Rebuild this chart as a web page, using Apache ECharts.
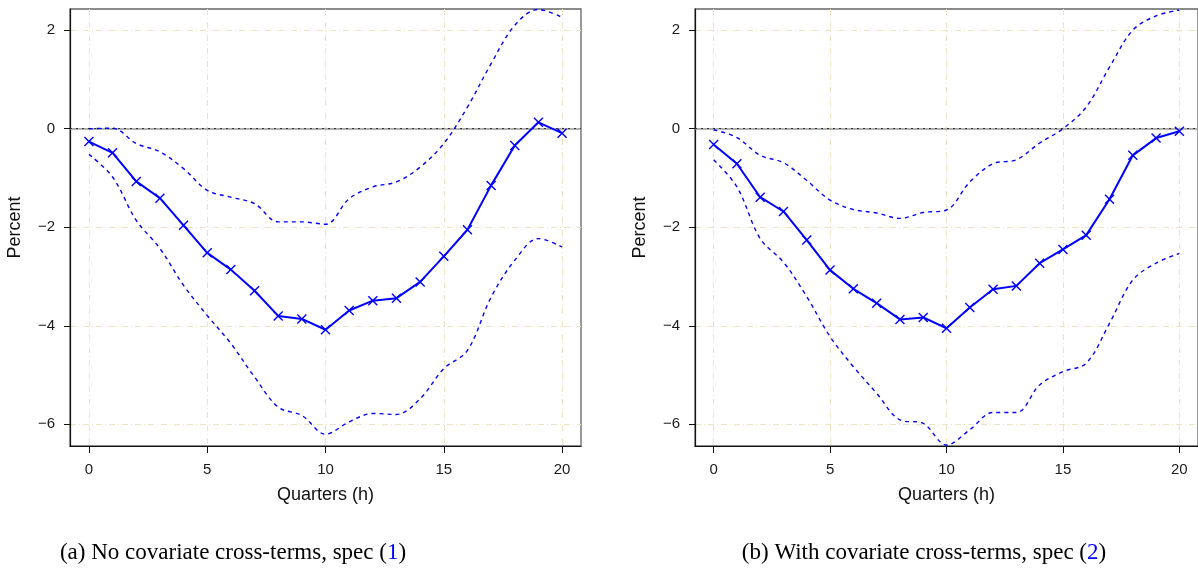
<!DOCTYPE html>
<html><head><meta charset="utf-8">
<script src="https://cdn.jsdelivr.net/npm/echarts@6/dist/echarts.min.js"></script>
<style>html,body{margin:0;padding:0;background:#fff}#c{width:1198px;height:571px}</style>
</head><body><div id="c"></div>
<script>
const quarters = [0,1,2,3,4,5,6,7,8,9,10,11,12,13,14,15,16,17,18,19,20];
const xTicks = [0,5,10,15,20];
const yTicks = [-6,-4,-2,0,2];

// Panel (a): no covariate cross-terms
const estA = [-0.26,-0.49,-1.07,-1.41,-1.96,-2.52,-2.86,-3.29,-3.80,-3.86,-4.08,-3.69,-3.49,-3.44,-3.11,-2.59,-2.05,-1.15,-0.34,0.13,-0.09];
const upA  = [0.00,0.01,-0.30,-0.47,-0.81,-1.25,-1.39,-1.52,-1.89,-1.89,-1.94,-1.42,-1.18,-1.08,-0.78,-0.30,0.44,1.32,2.10,2.42,2.26];
const loA  = [-0.52,-0.98,-1.86,-2.43,-3.18,-3.79,-4.36,-5.04,-5.65,-5.82,-6.20,-5.95,-5.78,-5.80,-5.48,-4.87,-4.50,-3.42,-2.67,-2.23,-2.40];

// Panel (b): with covariate cross-terms
const estB = [-0.32,-0.71,-1.39,-1.68,-2.26,-2.87,-3.25,-3.54,-3.87,-3.83,-4.05,-3.63,-3.26,-3.19,-2.73,-2.45,-2.16,-1.43,-0.54,-0.19,-0.05];
const upB  = [-0.02,-0.18,-0.54,-0.69,-1.05,-1.45,-1.64,-1.71,-1.82,-1.70,-1.65,-1.08,-0.71,-0.63,-0.29,0.00,0.44,1.25,2.00,2.29,2.41];
const loB  = [-0.63,-1.18,-2.23,-2.71,-3.41,-4.22,-4.83,-5.37,-5.91,-5.98,-6.42,-6.11,-5.76,-5.76,-5.20,-4.93,-4.76,-3.95,-3.07,-2.73,-2.53];

const captionA = '(a) No covariate cross-terms, spec ({b|1})';
const captionB = '(b) With covariate cross-terms, spec ({b|2})';

const SANS = '"Liberation Sans", Arial, Helvetica, sans-serif';
const SERIF = '"Liberation Serif", "DejaVu Serif", serif';
const BLUE = '#0000ff';
const GRIDC = '#ebe3c2';
const XSYM = 'path://M0,1 L1,0 L5,4 L9,0 L10,1 L6,5 L10,9 L9,10 L5,6 L1,10 L0,9 L4,5 Z';

const pairs = arr => quarters.map((q, i) => [q, arr[i]]);

function xAxisFor(idx) {
  return {
    gridIndex: idx, type: 'value', min: -0.8, max: 20.8,
    name: 'Quarters (h)', nameLocation: 'middle', nameGap: 40,
    nameTextStyle: {fontFamily: SANS, fontSize: 18, color: '#111'},
    axisLine: {show: true, onZero: false, lineStyle: {color: '#111', width: 1.2}},
    axisTick: {show: true, length: 7, customValues: xTicks, lineStyle: {color: '#111', width: 1}},
    axisLabel: {customValues: xTicks, margin: 16, fontFamily: SANS, fontSize: 15, color: '#1a1a1a'},
    splitLine: {show: true, lineStyle: {color: GRIDC, width: 1, type: [6, 3, 1, 3]}}
  };
}
function yAxisFor(idx) {
  return {
    gridIndex: idx, type: 'value', min: -6.44, max: 2.43,
    name: 'Percent', nameLocation: 'middle', nameGap: 46, nameRotate: 90,
    nameTextStyle: {fontFamily: SANS, fontSize: 18, color: '#111'},
    axisLine: {show: true, onZero: false, lineStyle: {color: '#111', width: 1.2}},
    axisTick: {show: true, length: 6, customValues: yTicks, lineStyle: {color: '#111', width: 1}},
    axisLabel: {customValues: yTicks, margin: 15, fontFamily: SANS, fontSize: 15, color: '#1a1a1a',
      formatter: v => (v < 0 ? '\u2212' + Math.abs(v) : String(v))},
    splitLine: {show: true, lineStyle: {color: GRIDC, width: 1, type: [6, 3, 1, 3]}}
  };
}
function seriesFor(idx, est, up, lo) {
  const band = arr => ({
    type: 'line', xAxisIndex: idx, yAxisIndex: idx, data: pairs(arr),
    showSymbol: false, symbol: 'none', smooth: 0.35, silent: true,
    lineStyle: {color: BLUE, width: 1.4, type: [4, 4]}, z: 3
  });
  return [
    {
      type: 'line', xAxisIndex: idx, yAxisIndex: idx, data: pairs(est),
      symbol: XSYM, symbolSize: 10, symbolKeepAspect: true,
      itemStyle: {color: BLUE}, lineStyle: {color: BLUE, width: 2}, z: 4,
      markLine: {
        silent: true, symbol: 'none', label: {show: false}, z: 2,
        data: [
          {yAxis: 0, lineStyle: {color: '#999', width: 1.6, type: 'solid'}},
          {yAxis: 0, lineStyle: {color: '#333', width: 1.2, type: [2, 4]}}
        ]
      }
    },
    band(up), band(lo)
  ];
}

const chart = echarts.init(document.getElementById('c'), null, {renderer: 'canvas'});
chart.setOption({
  animation: false,
  backgroundColor: '#fff',
  grid: [
    {left: 70, top: 9, width: 511, height: 437, show: true, borderColor: '#666', borderWidth: 1.3, backgroundColor: 'transparent'},
    {left: 695, top: 9, width: 511, height: 437, show: true, borderColor: '#666', borderWidth: 1.3, backgroundColor: 'transparent'}
  ],
  xAxis: [xAxisFor(0), xAxisFor(1)],
  yAxis: [yAxisFor(0), yAxisFor(1)],
  series: [].concat(seriesFor(0, estA, upA, loA), seriesFor(1, estB, upB, loB)),
  graphic: [
    {type: 'text', x: 233, y: 553, style: {text: captionA, align: 'center', verticalAlign: 'middle',
      font: '23px ' + SERIF, fill: '#000', rich: {b: {fill: BLUE, fontSize: 23, fontFamily: SERIF}}}},
    {type: 'text', x: 924, y: 553, style: {text: captionB, align: 'center', verticalAlign: 'middle',
      font: '23px ' + SERIF, fill: '#000', rich: {b: {fill: BLUE, fontSize: 23, fontFamily: SERIF}}}}
  ]
});
</script>
</body></html>
